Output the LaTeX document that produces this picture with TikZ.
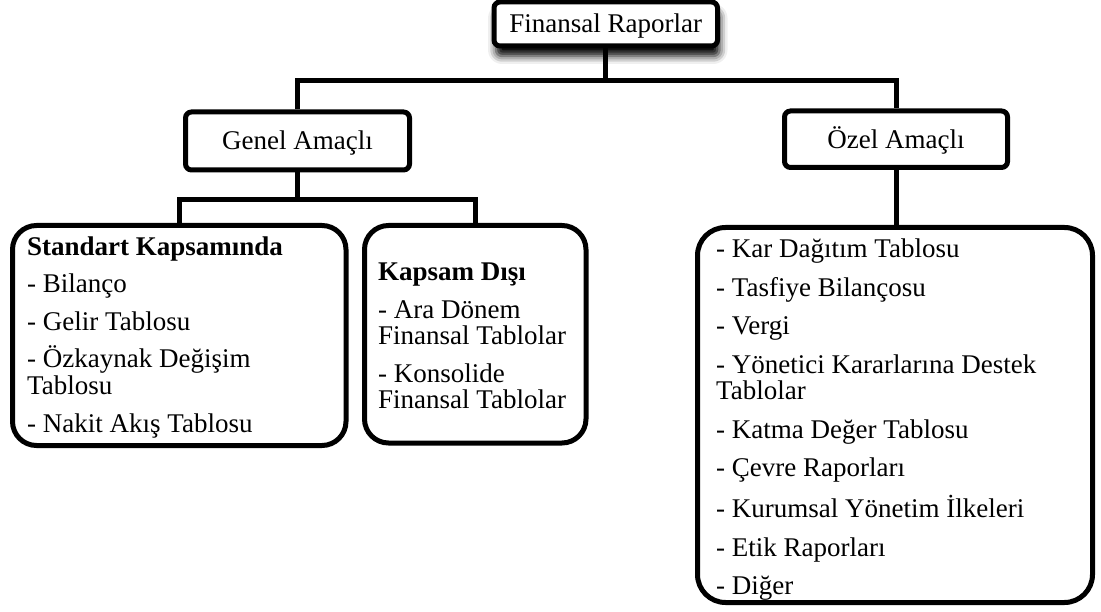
\documentclass[tikz,border=0pt]{standalone}
\usepackage{fontspec}
\setmainfont{Liberation Serif}
\usetikzlibrary{shadows.blur}

\begin{document}
\begin{tikzpicture}[x=1pt,y=-1pt,
  every node/.style={font=\fontsize{27}{26.5}\selectfont},
  frame/.style={draw=black, line width=5pt, fill=white, inner sep=0pt},
  smallbox/.style={frame, rounded corners=6pt, text height=22pt, text depth=4pt},
  bigbox/.style={frame, rounded corners=24pt},
  listtext/.style={anchor=north west, align=left, inner sep=0pt},
  link/.style={draw=black, line width=5pt}
]
\useasboundingbox (0,0) rectangle (1101,612);

% top level
\node[smallbox, minimum width=223.5pt, minimum height=44pt,
      blur shadow={shadow xshift=2pt, shadow yshift=-10pt,
                   shadow blur radius=8pt, shadow opacity=100}]
  (fr) at (605.75,24) {Finansal Raporlar};

% second level
\node[smallbox, minimum width=224pt, minimum height=58pt] (ga) at (297.5,141) {Genel Amaçlı};
\node[smallbox, minimum width=223pt, minimum height=56.5pt] (oa) at (896,139.25) {Özel Amaçlı};

% list boxes
\node[bigbox, minimum width=333.5pt, minimum height=220pt] (std) at (179.25,335.5) {};
\node[bigbox, minimum width=221.5pt, minimum height=217.5pt] (kd) at (475.25,334.25) {};
\node[bigbox, minimum width=395pt, minimum height=375pt, rounded corners=28pt] (ob) at (895,415) {};

\node[listtext] (stdtext) at (27,231) {%
  \rule{0pt}{24pt}\textbf{Standart Kapsamında}\\[11pt]
  - Bilanço\\[11pt]
  - Gelir Tablosu\\[11pt]
  - Özkaynak Değişim\\
  Tablosu\\[11.5pt]
  - Nakit Akış Tablosu};

\node[listtext] (kdtext) at (378,256.7) {%
  \rule{0pt}{24pt}\textbf{Kapsam Dışı}\\[11pt]
  - Ara Dönem\\
  Finansal Tablolar\\[11pt]
  - Konsolide\\
  Finansal Tablolar};

\node[listtext] (obtext) at (716,233.7) {%
  \rule{0pt}{24pt}- Kar Dağıtım Tablosu\\[12pt]
  - Tasfiye Bilançosu\\[12pt]
  - Vergi\\[12pt]
  - Yönetici Kararlarına Destek\\
  Tablolar\\[12pt]
  - Katma Değer Tablosu\\[12pt]
  - Çevre Raporları\\[12pt]
  - Kurumsal Yönetim İlkeleri\\[12pt]
  - Etik Raporları\\[12pt]
  - Diğer};

% connectors
\coordinate (bus1) at (605.75,80.5);
\coordinate (bus2) at (297.5,199.5);
\draw[link] (fr.south) -- (bus1);
\draw[link] (ga.north) |- (bus1) -| (oa.north);
\draw[link] (ga.south) -- (bus2);
\draw[link] (std.north) |- (bus2) -| (kd.north);
\draw[link] (oa.south) -- (oa.south |- ob.north);
\end{tikzpicture}
\end{document}
